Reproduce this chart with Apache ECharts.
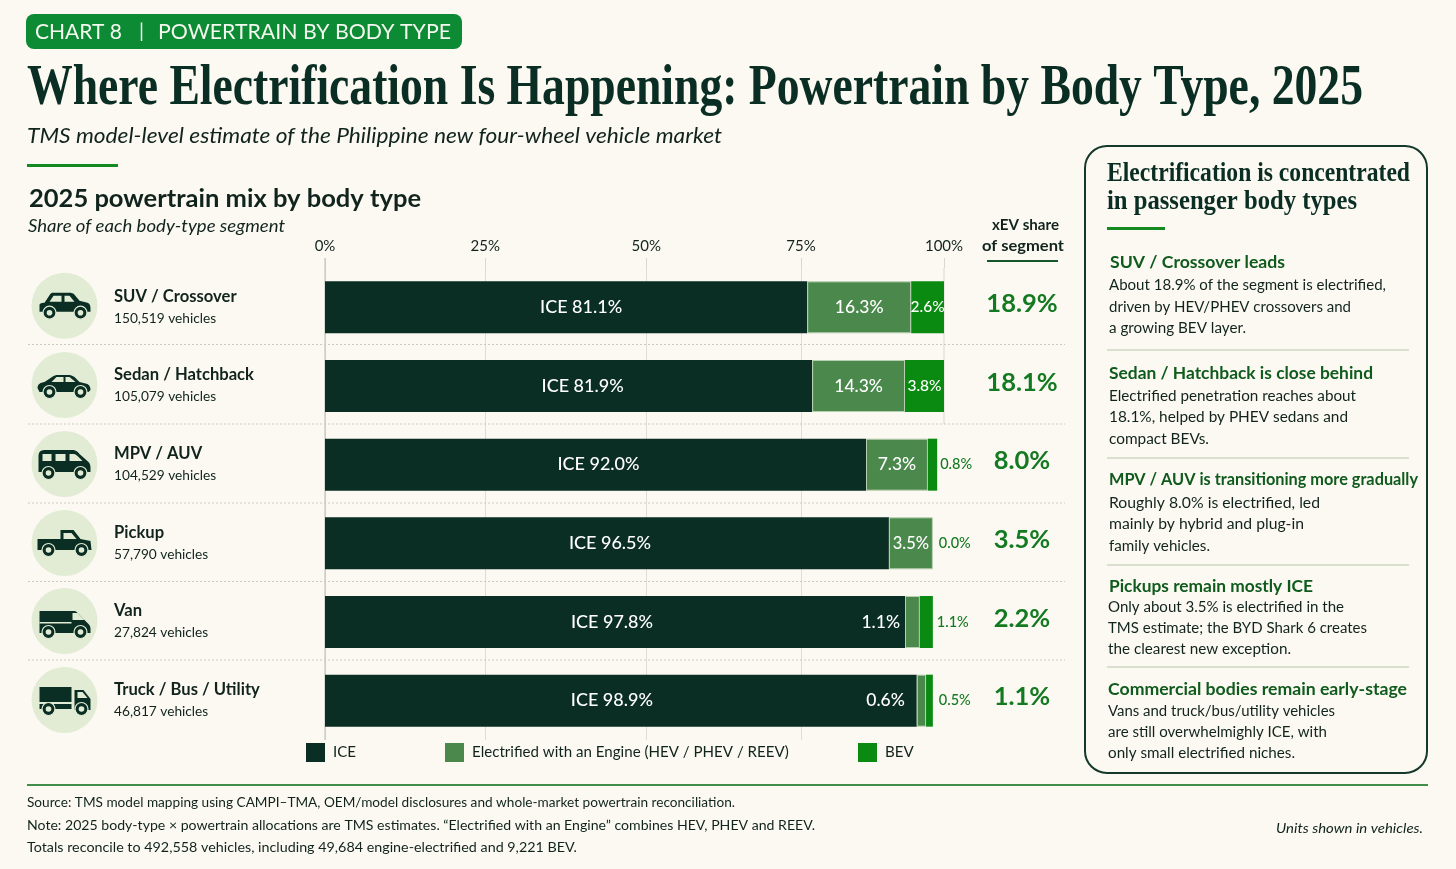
<!DOCTYPE html>
<html>
<head>
<meta charset="utf-8">
<style>html,body{margin:0;padding:0;background:#fcf9f2}#c{width:1456px;height:869px}</style>
<script src="https://cdn.jsdelivr.net/npm/echarts@6/dist/echarts.min.js"></script>
</head>
<body>
<div id="c"></div>
<script>
// ---- DATA ----
const categories = ['SUV / Crossover','Sedan / Hatchback','MPV / AUV','Pickup','Van','Truck / Bus / Utility'];
const vehicles = ['150,519','105,079','104,529','57,790','27,824','46,817'];
// Printed shares as shown in the reference
const iceLabels = ['ICE 81.1%','ICE 81.9%','ICE 92.0%','ICE 96.5%','ICE 97.8%','ICE 98.9%'];
const engineLabels = ['16.3%','14.3%','7.3%','3.5%','1.1%','0.6%'];
const bevLabels = ['2.6%','3.8%','0.8%','0.0%','1.1%','0.5%'];
const xevShare = ['18.9%','18.1%','8.0%','3.5%','2.2%','1.1%'];
// Segment lengths as drawn in the reference, read against its 0-100 axis span
// (the source picture does not draw its bars proportional to the printed shares)
const iceDrawn = [77.9,78.7,87.4,91.1,93.7,95.6];
const engineDrawn = [16.8,15.0,10.0,7.1,2.4,1.5];
const bevDrawn = [5.3,6.3,1.5,0,2.1,1.1];
// Tick marks sit unevenly in the reference
const tickValues = [0,25.9,51.9,76.9,100];
const tickLabels = ['0%','25%','50%','75%','100%'];
const seriesNames = ['ICE','Electrified with an Engine (HEV / PHEV / REEV)','BEV'];

// ---- STYLE ----
const BG='#fcf9f2', INK='#10241d', DEEP='#0a2e23', ENGINE='#4a884c', BEVC='#0b8a12', GREEN='#137a22', HEAD='#0f5a1d', SANS='Lato', SERIF='"Liberation Serif"', PALE='#e2ecd4';
const iceNudge=[15,14,3,3,-3,-9];
const ctx=document.createElement('canvas').getContext('2d');
function T(x,y,text,o){
  const font=`${o.italic?'italic ':''}${o.weight||'normal'} ${o.size}px ${o.family||SANS}`;
  ctx.font=font;
  const sx=o.w?o.w/ctx.measureText(text).width:1;
  return {type:'text',x:x,y:y,scaleX:sx,z:10,style:{text:text,font:font,fill:o.color||INK,verticalAlign:'middle',align:o.align||'left'}};
}
function R(x,y,w,h,fill,r){return {type:'rect',shape:{x:x,y:y,width:w,height:h,r:r||0},style:{fill:fill},z:5};}
function L(x1,y1,x2,y2,c,lw,dash){return {type:'line',shape:{x1:x1,y1:y1,x2:x2,y2:y2},style:{stroke:c,lineWidth:lw,lineDash:dash||null},z:1};}

// Turns a small M/L/H/V/Q/Z outline into polygons for the graphic component
function outline(d){
  const out=[];let cur=null,x=0,y=0;
  const tok=d.match(/[MLHVQZ]|-?[\d.]+/g);let i=0;let cmd='';
  const num=()=>parseFloat(tok[i++]);
  while(i<tok.length){
    if(/[MLHVQZ]/.test(tok[i]))cmd=tok[i++];
    if(cmd==='M'){x=num();y=num();cur=[[x,y]];out.push(cur);cmd='L';}
    else if(cmd==='L'){x=num();y=num();cur.push([x,y]);}
    else if(cmd==='H'){x=num();cur.push([x,y]);}
    else if(cmd==='V'){y=num();cur.push([x,y]);}
    else if(cmd==='Q'){const cx=num(),cy=num(),ex=num(),ey=num();
      for(let t=1;t<=6;t++){const s=t/6,u=1-s;cur.push([u*u*x+2*u*s*cx+s*s*ex,u*u*y+2*u*s*cy+s*s*ey]);}
      x=ex;y=ey;}
  }
  return out;
}
const icons=[
 {b:'M-25,5 L-25,-1 Q-24,-3 -20,-3 L-14,-12 Q-13,-13 -11,-13 L5,-13 Q8,-13 10,-11 L15,-5 L23,-3 Q26,-2 26,3 L26,6 L-25,6 Z',
  g:'M-11,-10 H-3 V-4 H-15 Z M0,-10 H5 L10,-4 H0 Z',w:[[-15,7],[16,7]]},
 {b:'M-27,3 Q-27,-2 -20,-3 L-11,-9 Q-9,-10 -6,-10 L4,-10 Q7,-10 10,-8 L15,-3 L23,-1 Q26,1 26,5 L24,7 L-25,7 Z',
  g:'M-8,-8 H-1 V-3 H-13 Z M1,-8 H5 L11,-3 H1 Z',w:[[-15,7],[16,7]]},
 {b:'M-26,8 V-8 Q-26,-14 -20,-14 L8,-14 Q12,-14 15,-10 L24,-2 Q26,0 26,4 V8 Z',
  g:'M-22,-10 H-13 V-3 H-22 Z M-9,-10 H1 V-3 H-9 Z M5,-10 H9 Q11,-10 13,-8 L18,-3 H5 Z',w:[[-16,9],[16,9]]},
 {b:'M-27,-4 L-4,-4 L-4,-13 L9,-13 L16,-4 L26,-2 L27,7 L-27,7 Z',
  g:'M-1,-10 H7 L12,-4 H-1 Z',w:[[-16,7],[17,7]]},
 {b:'M-25,-10 H9 Q12,-10 13,-8 L24,3 Q26,5 26,8 V12 H-25 Z',
  g:'M8,-8 H13 L20,-1 H8 Z M-25,1 H7 V2.5 H-25 Z',w:[[-16,11],[16,11]]},
 {b:'M-25,-13 H7 V2 H-25 Z M-25,4 H7 V9 H-25 Z M10,-10 H19 L26,-1 V10 H10 Z',
  g:'M13,-8 H18 L23,-2 H13 Z',w:[[-16,9],[17,9]]}
];
const iconY=[305.7,385,464,543,621,700];
function iconGroup(i){
  const ic=icons[i];
  const kids=[{type:'circle',shape:{cx:0,cy:0,r:33},style:{fill:PALE}}];
  outline(ic.b).forEach(p=>kids.push({type:'polygon',shape:{points:p},style:{fill:DEEP}}));
  outline(ic.g).forEach(p=>kids.push({type:'polygon',shape:{points:p},style:{fill:PALE}}));
  ic.w.forEach(p=>{
    kids.push({type:'circle',shape:{cx:p[0],cy:p[1],r:6.5},style:{fill:DEEP,stroke:PALE,lineWidth:1.2}});
    kids.push({type:'circle',shape:{cx:p[0],cy:p[1],r:2.8},style:{fill:PALE}});
  });
  return {type:'group',x:64.5,y:iconY[i],z:6,children:kids};
}

const panelHeads=[
 ['SUV / Crossover leads',1110,261,175],
 ['Sedan / Hatchback is close behind',1109,372,264],
 ['MPV / AUV is transitioning more gradually',1109,478,309],
 ['Pickups remain mostly ICE',1109,585,204],
 ['Commercial bodies remain early-stage',1108,688,299]];
const panelLines=[
 ['About 18.9% of the segment is electrified,',1109,284,277],
 ['driven by HEV/PHEV crossovers and',1109,306,242],
 ['a growing BEV layer.',1109,327,137],
 ['Electrified penetration reaches about',1109,395,247],
 ['18.1%, helped by PHEV sedans and',1109,416,239],
 ['compact BEVs.',1109,438,100],
 ['Roughly 8.0% is electrified, led',1109,502,211],
 ['mainly by hybrid and plug-in',1109,523,195],
 ['family vehicles.',1109,545,101],
 ['Only about 3.5% is electrified in the',1108,606,236],
 ['TMS estimate; the BYD Shark 6 creates',1108,627,259],
 ['the clearest new exception.',1108,648,183],
 ['Vans and truck/bus/utility vehicles',1108,710,227],
 ['are still overwhelmighly ICE, with',1108,731,219],
 ['only small electrified niches.',1108,752,187]];

const graphics=[
 R(26,14,436,35,'#0d8a34',8),
 T(35,32,'CHART 8',{size:21,color:'#f4f8ee',w:87}),
 T(139,32,'|',{size:20,color:'#f4f8ee'}),
 T(158,32,'POWERTRAIN BY BODY TYPE',{size:21,color:'#f4f8ee',w:293}),
 T(27,90,'Where Electrification Is Happening: Powertrain by Body Type, 2025',{size:56,weight:'bold',family:SERIF,color:DEEP,w:1336}),
 T(27,136,'TMS model-level estimate of the Philippine new four-wheel vehicle market',{size:21,italic:true,w:695}),
 R(27,164,91,3,'#14891f'),
 T(29,199,'2025 powertrain mix by body type',{size:25,weight:'bold',w:392}),
 T(28,227,'Share of each body-type segment',{size:17,italic:true,w:257}),
 T(992,225,'xEV share',{size:16,weight:'bold',w:67}),
 T(982,246,'of segment',{size:16,weight:'bold',w:82}),
 L(987,261,1058,261,'#14562a',2),
 L(944,268,944,424,'#d8d8d0',1),
 L(325,258,325,740,'#bdbdb5',1),
 // separators
 ...[344.5,424,503,581.5,660].map(y=>L(28,y,1065,y,'#cbcbc2',1,[2,2])),
 // icons
 ...categories.map((c,i)=>iconGroup(i)),
 // side panel
 {type:'rect',shape:{x:1085,y:146,width:342,height:627,r:22},style:{fill:BG,stroke:'#14382c',lineWidth:2},z:2},
 T(1107,174,'Electrification is concentrated',{size:27,weight:'bold',family:SERIF,color:DEEP,w:303}),
 T(1107,202,'in passenger body types',{size:27,weight:'bold',family:SERIF,color:DEEP,w:250}),
 R(1107,227,58,3,'#14891f'),
 ...panelHeads.map(h=>T(h[1],h[2]+1,h[0],{size:17.5,weight:'bold',color:HEAD,w:h[3]})),
 ...panelLines.map(l=>T(l[1],l[2]+1,l[0],{size:15.5,w:l[3]})),
 ...[350,458,565,667].map(y=>Object.assign(L(1107,y,1409,y,'#b5c7a9',1.2),{z:3})),
 // footer
 L(27,785,1428,785,'#3f8f4a',2),
 T(27,803,'Source: TMS model mapping using CAMPI–TMA, OEM/model disclosures and whole-market powertrain reconciliation.',{size:13.5,w:708}),
 T(27,825.5,'Note: 2025 body-type × powertrain allocations are TMS estimates. “Electrified with an Engine” combines HEV, PHEV and REEV.',{size:13.5,w:788}),
 T(27,848,'Totals reconcile to 492,558 vehicles, including 49,684 engine-electrified and 9,221 BEV.',{size:13.5,w:550}),
 T(1276,829,'Units shown in vehicles.',{size:13.5,italic:true,w:147})
];

const iceData=iceDrawn.map((v,i)=>({value:v,label:{show:true,position:'inside',offset:[iceNudge[i],0],formatter:iceLabels[i]}}));
const engineData=engineDrawn.map((v,i)=>({value:v,label: i>=4
   ? {show:true,position:'left',distance:i===4?5:12,fontSize:17.5,formatter:engineLabels[i]}
   : {show:true,position:'inside',fontSize:i===3?16.5:17.5,formatter:engineLabels[i]}}));
const bevData=bevDrawn.map((v,i)=>({value:v,label: i<2
   ? {show:true,position:'inside',formatter:bevLabels[i],color:'#fff',fontSize:15.5}
   : {show:true,position:'right',distance:i===4?4:(i===2?3:6),formatter:bevLabels[i],color:GREEN,fontSize:14.5}}));

const labelBase={color:'#ffffff',fontSize:18,fontFamily:SANS,fontWeight:500};
const makeLegend=(name,left,color)=>({data:[{name:name,icon:'rect',itemStyle:{color:color,borderWidth:0}}],left:left,top:743,padding:0,itemWidth:19,itemHeight:19,selectedMode:false,
  textStyle:{color:INK,fontSize:15.1,fontFamily:SANS,padding:[0,0,0,3]}});

const option={
  animation:false,
  backgroundColor:BG,
  textStyle:{fontFamily:SANS},
  grid:{left:325,top:268,width:619,height:472},
  legend:[makeLegend(seriesNames[0],306,DEEP),makeLegend(seriesNames[1],445,ENGINE),makeLegend(seriesNames[2],858,BEVC)],
  xAxis:{type:'value',position:'top',min:0,max:100,
    axisLine:{show:false},
    axisTick:{show:true,length:10,customValues:tickValues,lineStyle:{color:'#d8d8d0'}},
    splitLine:{show:true,showMaxLine:false,lineStyle:{color:'#dedcd4',type:'solid'}},
    axisLabel:{customValues:tickValues,margin:14,color:INK,fontSize:15,fontFamily:SANS,
      formatter:v=>tickLabels[tickValues.indexOf(v)]}},
  yAxis:[
   {type:'category',inverse:true,data:categories,position:'left',
    axisLine:{show:false},axisTick:{show:false},
    axisLabel:{align:'left',margin:211,
      formatter:(v,i)=>`{n|${v}}\n{s|${vehicles[i]} vehicles}`,
      rich:{n:{fontSize:16.6,fontWeight:'bold',color:INK,fontFamily:SANS,lineHeight:22},
            s:{fontSize:13.7,color:INK,fontFamily:SANS,lineHeight:22}}}},
   {type:'category',inverse:true,data:xevShare,position:'right',
    axisLine:{show:false},axisTick:{show:false},
    axisLabel:{align:'center',margin:78,
      formatter:v=>`{v|${v}}\n{e| }`,
      rich:{v:{color:GREEN,fontSize:25.5,fontWeight:'bold',fontFamily:SANS,lineHeight:30},e:{fontSize:6,lineHeight:7}}}}
  ],
  series:[
   {name:seriesNames[0],type:'bar',stack:'mix',barWidth:52,data:iceData,itemStyle:{color:DEEP},label:labelBase},
   {name:seriesNames[1],type:'bar',stack:'mix',data:engineData,itemStyle:{color:ENGINE,borderColor:'#b9d0b0',borderWidth:1},label:labelBase},
   {name:seriesNames[2],type:'bar',stack:'mix',data:bevData,itemStyle:{color:BEVC},label:labelBase}
  ],
  graphic:{elements:graphics}
};
const chart=echarts.init(document.getElementById('c'),null,{renderer:'canvas',width:1456,height:869});
chart.setOption(option);
</script>
</body>
</html>
